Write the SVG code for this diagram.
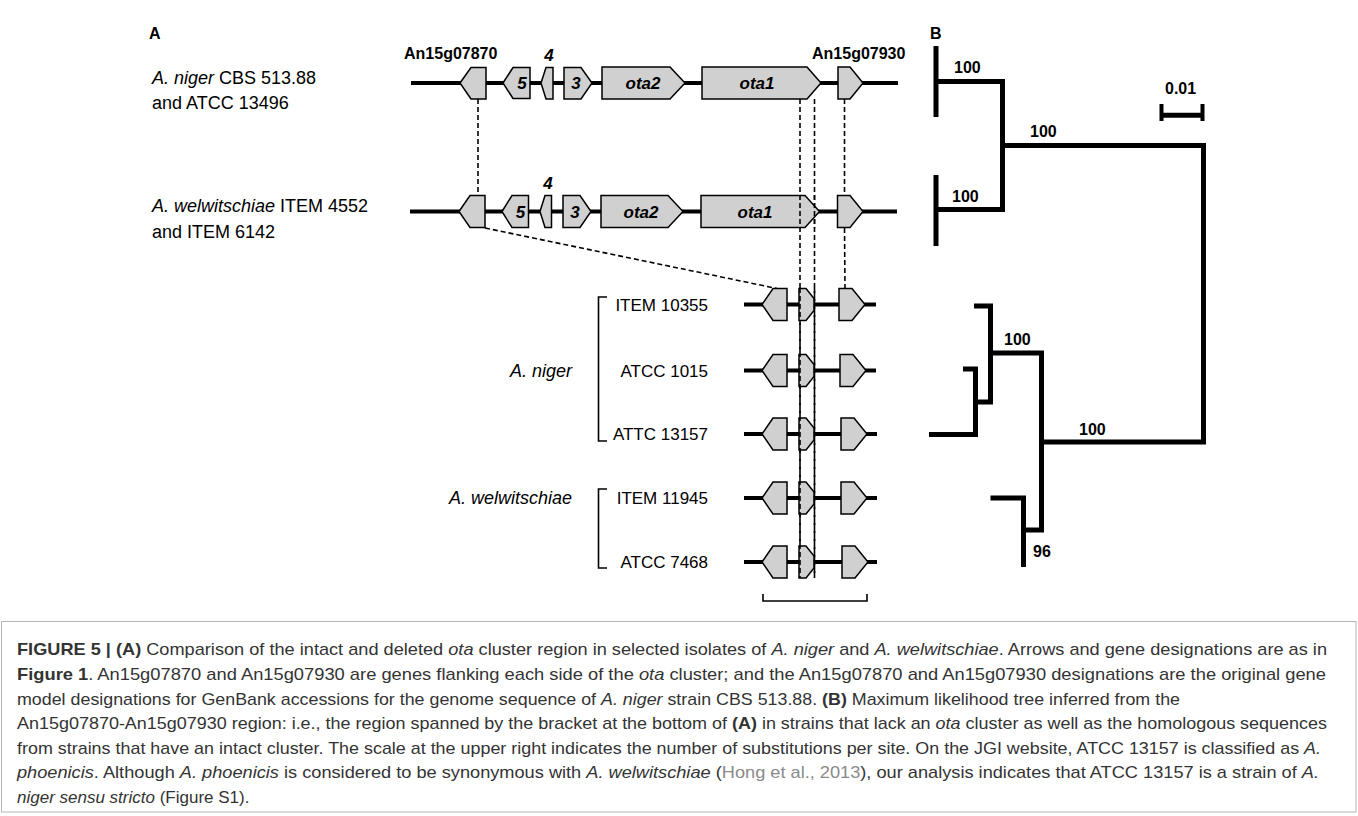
<svg xmlns="http://www.w3.org/2000/svg" width="1358" height="816" viewBox="0 0 1358 816">
<style>
.g{fill:#d0d0d0;stroke:#000;stroke-width:1.5;stroke-linejoin:miter}
.bb{stroke:#000;stroke-width:4;fill:none}
.dash{stroke:#000;stroke-width:1.6;stroke-dasharray:5 3;fill:none}
.tree{stroke:#000;stroke-width:5;fill:none;stroke-linejoin:miter}
.br{stroke:#000;stroke-width:1.6;fill:none}
.gl{font-family:"Liberation Sans",Arial,sans-serif;font-weight:bold;font-style:italic;font-size:17px;text-anchor:middle;fill:#000}
.gn{font-family:"Liberation Sans",Arial,sans-serif;font-weight:bold;font-size:16px;fill:#000}
.lab{font-family:"Liberation Sans",Arial,sans-serif;font-size:18px;fill:#000}
.st{font-family:"Liberation Sans",Arial,sans-serif;font-size:17px;fill:#000;text-anchor:end}
.tl{font-family:"Liberation Sans",Arial,sans-serif;font-weight:bold;font-size:16px;fill:#000}
.cap{font-family:"Liberation Sans",Arial,sans-serif;font-size:17px;fill:#333}
.b{font-weight:bold}
.i{font-style:italic}
.lk{fill:#8a8a8a}
</style>

<!-- panel letters -->
<text class="tl" x="149" y="39">A</text>
<text class="tl" x="930" y="39">B</text>

<!-- strain labels -->
<g id="label-niger-cbs">
<text class="lab" x="152" y="84"><tspan class="i">A. niger</tspan> CBS 513.88</text>
<text class="lab" x="152" y="109">and ATCC 13496</text>
</g>
<g id="label-welw-item">
<text class="lab" x="152" y="212"><tspan class="i">A. welwitschiae</tspan> ITEM 4552</text>
<text class="lab" x="152" y="238">and ITEM 6142</text>
</g>

<!-- backbones -->
<g id="backbones">
<line class="bb" x1="411" y1="83" x2="898" y2="83"/>
<line class="bb" x1="410" y1="211.5" x2="897" y2="211.5"/>
<line class="bb" x1="744" y1="304.5" x2="876" y2="304.5"/>
<line class="bb" x1="744" y1="370.5" x2="876" y2="370.5"/>
<line class="bb" x1="744" y1="434" x2="877" y2="434"/>
<line class="bb" x1="744" y1="498" x2="877" y2="498"/>
<line class="bb" x1="744" y1="562" x2="877" y2="562"/>
</g>

<!-- connectors -->
<g id="connectors">
<line class="dash" x1="478" y1="99" x2="478" y2="195"/>
<line class="dash" x1="800" y1="99" x2="800" y2="578"/>
<line class="dash" x1="814.5" y1="99" x2="814.5" y2="578"/>
<line class="dash" x1="844.5" y1="99" x2="844.5" y2="195"/>
<line class="dash" x1="844.5" y1="228" x2="845" y2="288.5"/>
<line class="dash" x1="485" y1="228" x2="777" y2="288.5"/>
</g>

<!-- row 1 genes -->
<g id="r1-An15g07870"><polygon class="g" points="460,83 471,67.5 486,67.5 486,99 471,99"/><text class="gn" x="404" y="59">An15g07870</text></g>
<g id="r1-gene5"><polygon class="g" points="503,83 513,67.5 530,67.5 530,98.5 513,98.5"/><text class="gl" x="522" y="89">5</text></g>
<g id="r1-gene4"><polygon class="g" points="541,83 546,67.5 553,67.5 553,99 546,99"/><text class="gl" x="549" y="60.5">4</text></g>
<g id="r1-gene3"><polygon class="g" points="564,67.5 581,67.5 592,83 581,99 564,99"/><text class="gl" x="576" y="89">3</text></g>
<g id="r1-ota2"><polygon class="g" points="602,67 670,67 685,83 670,99 602,99"/><text class="gl" x="643" y="89">ota2</text></g>
<g id="r1-ota1"><polygon class="g" points="702,67 807,67 821,83 807,99 702,99"/><text class="gl" x="757" y="89">ota1</text></g>
<g id="r1-An15g07930"><polygon class="g" points="838,67 850,67 863,83 850,99 838,99"/><text class="gn" x="812" y="59">An15g07930</text></g>

<!-- row 2 genes -->
<g id="r2-An15g07870"><polygon class="g" points="459,211.5 470,195.5 485,195.5 485,227.5 470,227.5"/></g>
<g id="r2-gene5"><polygon class="g" points="502,211.5 512,195.5 528.5,195.5 528.5,227.5 512,227.5"/><text class="gl" x="520.5" y="217.5">5</text></g>
<g id="r2-gene4"><polygon class="g" points="540,211.5 545,195.5 551.5,195.5 551.5,227.5 545,227.5"/><text class="gl" x="548" y="188.5">4</text></g>
<g id="r2-gene3"><polygon class="g" points="563,195.5 580,195.5 591,211.5 580,227.5 563,227.5"/><text class="gl" x="575" y="217.5">3</text></g>
<g id="r2-ota2"><polygon class="g" points="601,195.5 668,195.5 683,211.5 668,227.5 601,227.5"/><text class="gl" x="641" y="217.5">ota2</text></g>
<g id="r2-ota1"><polygon class="g" points="701,195.5 805,195.5 819.5,211.5 805,227.5 701,227.5"/><text class="gl" x="755" y="217.5">ota1</text></g>
<g id="r2-An15g07930"><polygon class="g" points="837.5,195.5 850,195.5 863,211.5 850,227.5 837.5,227.5"/></g>

<!-- redraw the vertical dashes over row 2 ota1 -->
<g id="connectors-over">
<line class="dash" x1="800" y1="195" x2="800" y2="228"/>
<line class="dash" x1="814.5" y1="195" x2="814.5" y2="228"/>
</g>

<!-- lower rows -->
<g id="row-ITEM10355">
<polygon class="g" points="762,304.5 773,288.5 787,288.5 787,320.5 773,320.5"/>
<polygon class="g" points="799,288.5 806,288.5 814,298.5 814,310.5 806,320.5 799,320.5"/>
<polygon class="g" points="839,288.5 852,288.5 865,304.5 852,320.5 839,320.5"/>
<text class="st" x="708" y="310.5">ITEM 10355</text>
</g>
<g id="row-ATCC1015">
<polygon class="g" points="762,370.5 773,354.5 787,354.5 787,386.5 773,386.5"/>
<polygon class="g" points="799,354.5 806,354.5 814,364.5 814,376.5 806,386.5 799,386.5"/>
<polygon class="g" points="840,354.5 853,354.5 866,370.5 853,386.5 840,386.5"/>
<text class="st" x="708" y="376.5">ATCC 1015</text>
</g>
<g id="row-ATTC13157">
<polygon class="g" points="762,434 773,418 787,418 787,450 773,450"/>
<polygon class="g" points="799,418 806,418 814,428 814,440 806,450 799,450"/>
<polygon class="g" points="841,418 854,418 867,434 854,450 841,450"/>
<text class="st" x="708" y="440">ATTC 13157</text>
</g>
<g id="row-ITEM11945">
<polygon class="g" points="762,498 773,482 787,482 787,514 773,514"/>
<polygon class="g" points="799,482 806,482 814,492 814,504 806,514 799,514"/>
<polygon class="g" points="841,482 854,482 867,498 854,514 841,514"/>
<text class="st" x="708" y="504">ITEM 11945</text>
</g>
<g id="row-ATCC7468">
<polygon class="g" points="762,562 773,546 787,546 787,578 773,578"/>
<polygon class="g" points="799,546 806,546 814,556 814,568 806,578 799,578"/>
<polygon class="g" points="842,546 855,546 868,562 855,578 842,578"/>
<text class="st" x="708" y="568">ATCC 7468</text>
</g>

<g id="connectors-lower">
<line class="dash" x1="800" y1="288" x2="800" y2="578"/>
<line class="dash" x1="814.5" y1="288" x2="814.5" y2="578"/>
</g>

<!-- group brackets -->
<g id="group-niger">
<path class="br" d="M607,297 H598.5 V441 H607"/>
<text class="lab i" x="572" y="377" text-anchor="end" font-style="italic">A. niger</text>
</g>
<g id="group-welw">
<path class="br" d="M607,489 H598.5 V568 H607"/>
<text class="lab" x="572" y="504" text-anchor="end" font-style="italic">A. welwitschiae</text>
</g>
<g id="region-bracket"><path class="br" d="M763,594 V601 H867 V594" stroke-width="2"/></g>

<!-- tree -->
<g id="tree">
<path class="tree" d="M936,46 V117"/>
<path class="tree" d="M936,81.5 H1002.5 V209.5 H936"/>
<path class="tree" d="M936,175 V246"/>
<path class="tree" d="M1002.5,145.5 H1203.5 V442 H1041.5"/>
<path class="tree" d="M990.5,353 H1041.5 V530 H1023.5"/>
<path class="tree" d="M974,306 H990.5 V402 H975"/>
<path class="tree" d="M963,369 H975.5 V434.5 H929"/>
<path class="tree" d="M990.5,498 H1023.5 V567"/>
<text class="tl" x="954" y="73">100</text>
<text class="tl" x="1030" y="137">100</text>
<text class="tl" x="952" y="202">100</text>
<text class="tl" x="1004" y="345">100</text>
<text class="tl" x="1079" y="435">100</text>
<text class="tl" x="1033" y="557">96</text>
</g>
<g id="scale">
<path d="M1160,115.3 H1204" stroke="#000" stroke-width="5"/>
<path d="M1161.5,104 V121 M1202.5,104 V121" stroke="#000" stroke-width="4"/>
<text class="tl" x="1165" y="94">0.01</text>
</g>

<!-- caption -->
<g id="caption">
<rect x="1.5" y="621.5" width="1354.5" height="190.5" fill="none" stroke="#b5b5b5" stroke-width="1"/>
<text class="cap" x="17" y="655" textLength="1310" lengthAdjust="spacingAndGlyphs"><tspan class="b">FIGURE 5 | (A)</tspan> Comparison of the intact and deleted <tspan class="i">ota</tspan> cluster region in selected isolates of <tspan class="i">A. niger</tspan> and <tspan class="i">A. welwitschiae</tspan>. Arrows and gene designations are as in</text>
<text class="cap" x="17" y="680" textLength="1309" lengthAdjust="spacingAndGlyphs"><tspan class="b">Figure 1</tspan>. An15g07870 and An15g07930 are genes flanking each side of the <tspan class="i">ota</tspan> cluster; and the An15g07870 and An15g07930 designations are the original gene</text>
<text class="cap" x="17" y="705" textLength="1163" lengthAdjust="spacingAndGlyphs">model designations for GenBank accessions for the genome sequence of <tspan class="i">A. niger</tspan> strain CBS 513.88. <tspan class="b">(B)</tspan> Maximum likelihood tree inferred from the</text>
<text class="cap" x="17" y="729" textLength="1310" lengthAdjust="spacingAndGlyphs">An15g07870-An15g07930 region: i.e., the region spanned by the bracket at the bottom of <tspan class="b">(A)</tspan> in strains that lack an <tspan class="i">ota</tspan> cluster as well as the homologous sequences</text>
<text class="cap" x="17" y="754" textLength="1304" lengthAdjust="spacingAndGlyphs">from strains that have an intact cluster. The scale at the upper right indicates the number of substitutions per site. On the JGI website, ATCC 13157 is classified as <tspan class="i">A.</tspan></text>
<text class="cap" x="17" y="778" textLength="1302" lengthAdjust="spacingAndGlyphs"><tspan class="i">phoenicis</tspan>. Although <tspan class="i">A. phoenicis</tspan> is considered to be synonymous with <tspan class="i">A. welwitschiae</tspan> (<tspan class="lk">Hong et al., 2013</tspan>), our analysis indicates that ATCC 13157 is a strain of <tspan class="i">A.</tspan></text>
<text class="cap" x="17" y="803"><tspan class="i">niger sensu stricto</tspan> (Figure S1).</text>
</g>
</svg>
